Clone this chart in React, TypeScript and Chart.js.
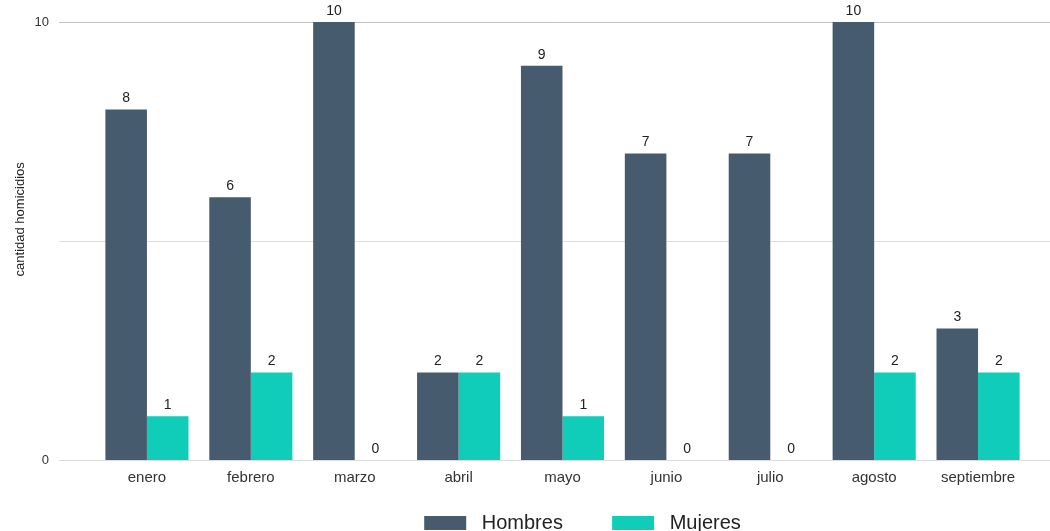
import React, { useEffect, useRef } from 'react';
import { Chart, registerables } from 'chart.js';

Chart.register(...registerables);

const categories = ['enero', 'febrero', 'marzo', 'abril', 'mayo', 'junio', 'julio', 'agosto', 'septiembre'];
const hombres = [8, 6, 10, 2, 9, 7, 7, 10, 3];
const mujeres = [1, 2, 0, 2, 1, 0, 0, 2, 2];
const yTickValues = [0, 5, 10];
const yTickShown = ['0', '', '10'];
const gridColors = ['#dcdcdc', '#dedede', '#c2c2c2'];
const yTitle = 'cantidad homicidios';

const FONT = '"Liberation Sans", Arial, sans-serif';

const gridPlugin = {
  id: 'extendedGrid',
  beforeDatasetsDraw(chart: any) {
    const { ctx } = chart;
    const y = chart.scales.y;
    ctx.save();
    ctx.lineWidth = 1;
    yTickValues.forEach((v, i) => {
      const py = Math.round(y.getPixelForValue(v)) + 0.5;
      ctx.strokeStyle = gridColors[i];
      ctx.beginPath();
      ctx.moveTo(59, py);
      ctx.lineTo(chart.width, py);
      ctx.stroke();
    });
    ctx.restore();
  },
};

const valueLabels = {
  id: 'valueLabels',
  afterDatasetsDraw(chart: any) {
    const { ctx } = chart;
    ctx.save();
    ctx.font = `14px ${FONT}`;
    ctx.fillStyle = '#222';
    ctx.textAlign = 'center';
    ctx.textBaseline = 'bottom';
    chart.data.datasets.forEach((ds: any, di: number) => {
      const meta = chart.getDatasetMeta(di);
      meta.data.forEach((el: any, i: number) => {
        ctx.fillText(String(ds.data[i]), el.x, el.y - 4);
      });
    });
    ctx.restore();
  },
};

const legendShift = {
  id: 'legendShift',
  afterLayout(chart: any) {
    const lg = chart.legend;
    if (lg) {
      lg.left += 20;
      lg.right += 20;
    }
  },
};

export default function App() {
  const ref = useRef<HTMLCanvasElement>(null);
  useEffect(() => {
    const chart = new Chart(ref.current as HTMLCanvasElement, {
      type: 'bar',
      data: {
        labels: categories,
        datasets: [
          { label: 'Hombres', data: hombres, backgroundColor: '#465c6e' },
          { label: 'Mujeres', data: mujeres, backgroundColor: '#0fcdb9' },
        ],
      },
      options: {
        animation: false,
        responsive: true,
        maintainAspectRatio: false,
        datasets: { bar: { categoryPercentage: 0.8, barPercentage: 1.0 } } as any,
        layout: { padding: { top: 22, right: 20, left: 0, bottom: 0 } },
        scales: {
          x: {
            grid: { display: false, drawTicks: true, tickLength: 6 },
            border: { display: false },
            ticks: { color: '#333', font: { size: 15, family: FONT }, padding: 3 },
          },
          y: {
            min: 0,
            max: 10,
            afterFit: (s: any) => { s.width = 95; },
            afterBuildTicks: (s: any) => { s.ticks = yTickValues.map((v) => ({ value: v })); },
            grid: { display: false, drawTicks: true, tickLength: 46 },
            border: { display: false },
            ticks: {
              color: '#333',
              font: { size: 13, family: FONT },
              padding: 0,
              callback: (v: any) => yTickShown[yTickValues.indexOf(Number(v))] ?? '',
            },
            title: {
              display: true,
              text: '            ' + yTitle,
              color: '#222',
              font: { size: 13, family: FONT },
              padding: { top: 13, bottom: 0 },
            },
          },
        },
        plugins: {
          legend: {
            position: 'bottom',
            fullSize: false,
            labels: {
              boxWidth: 42,
              boxHeight: 14,
              padding: 23,
              color: '#222',
              font: { size: 20, family: FONT },
              generateLabels: (chart: any) =>
                Chart.defaults.plugins.legend.labels
                  .generateLabels(chart)
                  .map((l: any, i: number) => ({ ...l, text: ' ' + l.text + (i === 0 ? '    \u2009' : '') })),
            },
          },
          tooltip: { enabled: false },
        },
      },
      plugins: [gridPlugin, valueLabels, legendShift],
    });
    return () => chart.destroy();
  }, []);

  return (
    <div style={{ position: 'fixed', left: 0, top: 0, width: 1050, height: 531, overflow: 'hidden', background: '#fff' }}>
      <div style={{ position: 'relative', width: 1050, height: 543 }}>
        <canvas ref={ref} />
      </div>
    </div>
  );
}
